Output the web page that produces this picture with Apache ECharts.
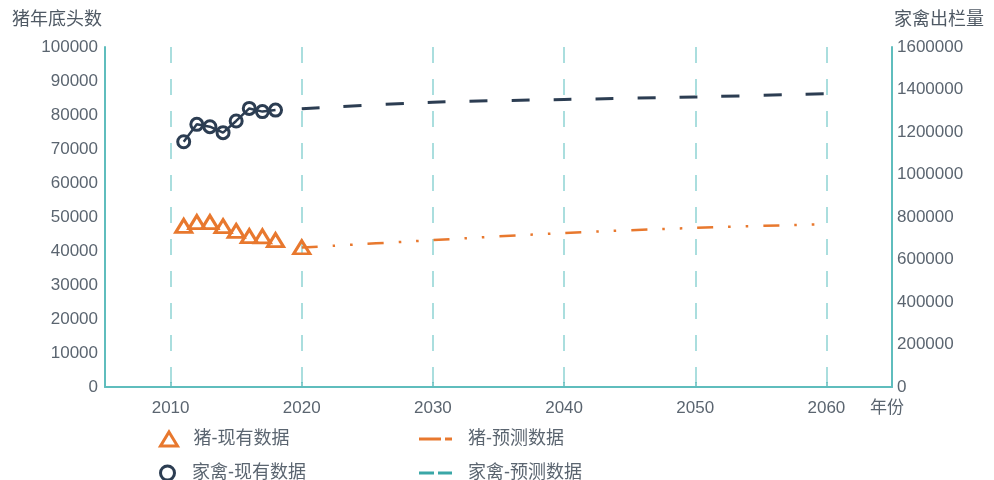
<!DOCTYPE html>
<html>
<head>
<meta charset="utf-8">
<style>
  html, body { margin: 0; padding: 0; background: #fff; }
  #chart { width: 994px; height: 480px; }
</style>
<script src="https://cdn.jsdelivr.net/npm/echarts@6/dist/echarts.min.js"></script>
</head>
<body>
<div id="chart"></div>
<script>
const xTicks = [2010, 2020, 2030, 2040, 2050, 2060];

const pigYears = [2011, 2012, 2013, 2014, 2015, 2016, 2017, 2018, 2020];
const pigValues = [47400, 48500, 48500, 47300, 45900, 44400, 44300, 43200, 41100];

const poultryYears = [2011, 2012, 2013, 2014, 2015, 2016, 2017, 2018];
const poultryValues = [1154000, 1236000, 1225000, 1197000, 1252000, 1311000, 1296000, 1303000];

const forecastYears = [2020, 2030, 2040, 2050, 2060];
const pigForecast = [41000, 43200, 45300, 46800, 47900];
const poultryForecast = [1309000, 1340000, 1353000, 1365000, 1380000];

const legendNames = ["猪-现有数据", "家禽-现有数据", "猪-预测数据", "家禽-预测数据"];

const ORANGE = "#e8782e";
const NAVY = "#2c3d52";
const TEAL = "#5fbdbd";
const TEAL_LEGEND = "#3aa7a7";
const TEXT = "#5b6570";
const FONT = "'Liberation Sans', 'Noto Sans CJK SC', sans-serif";

const zip = (xs, ys) => xs.map((x, i) => [x, ys[i]]);
const plain = (v) => String(v);

// legend icons per item
const legendItems = [
  { icon: "triangle", itemStyle: { color: "rgba(0,0,0,0)", borderColor: ORANGE, borderWidth: 3 } },
  { icon: "circle", itemStyle: { color: "rgba(0,0,0,0)", borderColor: NAVY, borderWidth: 3 } },
  { icon: "path://M0,0H22V3H0Z M26,0H33V3H26Z", itemStyle: { color: ORANGE, borderWidth: 0 } },
  { icon: "path://M0,0H15V3H0Z M19,0H33V3H19Z", itemStyle: { color: TEAL_LEGEND, borderWidth: 0 } },
];
const legendPos = [[159, 430], [159, 464], [419, 430], [419, 464]];

const myChart = echarts.init(document.getElementById("chart"));

const option = {
  animation: false,
  textStyle: { fontFamily: FONT },
  grid: { left: 105, right: 102, top: 47, bottom: 93 },
  legend: legendNames.map((name, i) => ({
    left: legendPos[i][0],
    top: legendPos[i][1],
    padding: 0,
    itemWidth: i < 2 ? 17 : 33,
    itemHeight: 14,
    textStyle: { fontSize: 18, color: TEXT, padding: [0, 0, 0, 11] },
    data: [Object.assign({ name }, legendItems[i])],
  })),
  xAxis: {
    type: "value",
    min: 2005,
    max: 2065,
    name: "年份",
    nameLocation: "end",
    nameGap: -22,
    nameTextStyle: { fontSize: 17, color: TEXT, align: "left", verticalAlign: "top", padding: [13, 0, 0, 0] },
    axisLine: { lineStyle: { color: TEAL, width: 2 } },
    axisTick: { show: true, inside: true, length: 5, customValues: xTicks, lineStyle: { color: TEAL, width: 1.5 } },
    axisLabel: { customValues: xTicks, formatter: plain, fontSize: 17, color: TEXT, margin: 13 },
    splitLine: { show: true, lineStyle: { color: "#8fd3d3", width: 1.5, type: [16, 16] } },
  },
  yAxis: [
    {
      type: "value",
      min: 0,
      max: 100000,
      interval: 10000,
      name: "猪年底头数",
      nameLocation: "end",
      nameGap: 27,
      nameTextStyle: { fontSize: 18, color: "#4f5964", align: "right", verticalAlign: "middle", padding: [0, 3, 0, 0] },
      axisLine: { show: true, lineStyle: { color: TEAL, width: 2 } },
      axisTick: { show: false },
      axisLabel: { formatter: plain, fontSize: 17, color: TEXT, margin: 7 },
      splitLine: { show: false },
    },
    {
      type: "value",
      min: 0,
      max: 1600000,
      interval: 200000,
      position: "right",
      name: "家禽出栏量",
      nameLocation: "end",
      nameGap: 27,
      nameTextStyle: { fontSize: 18, color: "#4f5964", align: "left", verticalAlign: "middle", padding: [0, 0, 0, 2] },
      axisLine: { show: true, lineStyle: { color: TEAL, width: 2 } },
      axisTick: { show: false },
      axisLabel: { formatter: plain, fontSize: 17, color: TEXT, margin: 5 },
      splitLine: { show: false },
    },
  ],
  series: [
    {
      name: legendNames[0],
      type: "scatter",
      yAxisIndex: 0,
      symbol: "triangle",
      symbolSize: [16, 13],
      itemStyle: { color: "rgba(0,0,0,0)", borderColor: ORANGE, borderWidth: 3, opacity: 1 },
      data: zip(pigYears, pigValues),
      z: 4,
    },
    {
      name: legendNames[1],
      type: "line",
      yAxisIndex: 1,
      symbol: "circle",
      symbolSize: 12,
      showAllSymbol: true,
      lineStyle: { color: NAVY, width: 2.5 },
      itemStyle: { color: "rgba(0,0,0,0)", borderColor: NAVY, borderWidth: 3 },
      data: zip(poultryYears, poultryValues),
      z: 4,
    },
    {
      name: legendNames[2],
      type: "line",
      yAxisIndex: 0,
      symbol: "none",
      smooth: 0.3,
      lineStyle: { color: ORANGE, width: 2.5, type: [16, 15, 2.5, 15, 2.5, 15] },
      itemStyle: { color: ORANGE },
      data: zip(forecastYears, pigForecast),
      z: 3,
    },
    {
      name: legendNames[3],
      type: "line",
      yAxisIndex: 1,
      symbol: "none",
      smooth: 0.3,
      lineStyle: { color: NAVY, width: 3, type: [18, 24] },
      itemStyle: { color: TEAL_LEGEND },
      data: zip(forecastYears, poultryForecast),
      z: 3,
    },
  ],
};

myChart.setOption(option);
</script>
</body>
</html>
